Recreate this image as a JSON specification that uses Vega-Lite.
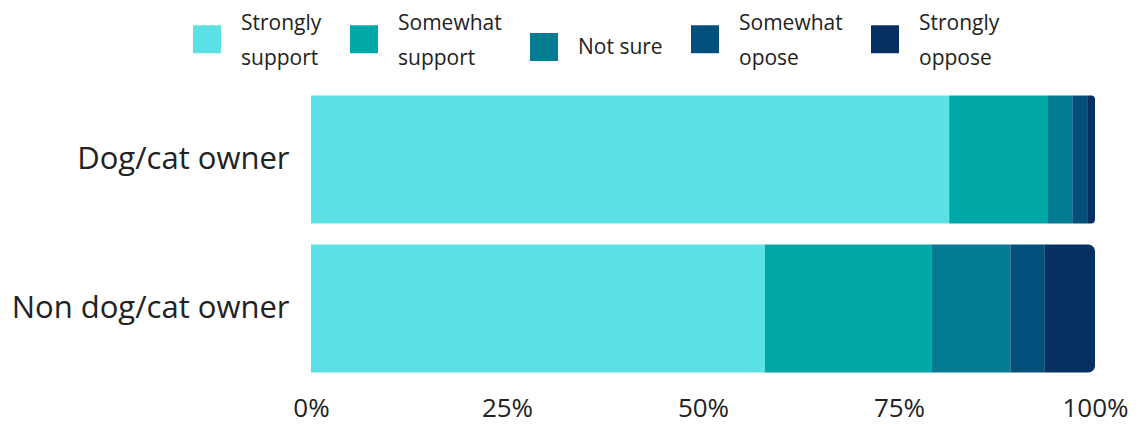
{
  "$schema": "https://vega.github.io/schema/vega-lite/v6.json",
  "width": 784,
  "height": 298,
  "autosize": {"type": "none"},
  "padding": {"left": 311, "top": 85, "right": 47, "bottom": 42},
  "background": "white",
  "config": {"view": {"stroke": null}, "font": "Open Sans"},
  "data": {
    "values": [
      {"group": "Dog/cat owner", "response": "Strongly support", "order": 1, "value": 81.4},
      {"group": "Dog/cat owner", "response": "Somewhat support", "order": 2, "value": 12.5},
      {"group": "Dog/cat owner", "response": "Not sure", "order": 3, "value": 3.2},
      {"group": "Dog/cat owner", "response": "Somewhat opose", "order": 4, "value": 2.0},
      {"group": "Dog/cat owner", "response": "Strongly oppose", "order": 5, "value": 0.9},
      {"group": "Non dog/cat owner", "response": "Strongly support", "order": 1, "value": 57.9},
      {"group": "Non dog/cat owner", "response": "Somewhat support", "order": 2, "value": 21.3},
      {"group": "Non dog/cat owner", "response": "Not sure", "order": 3, "value": 10.0},
      {"group": "Non dog/cat owner", "response": "Somewhat opose", "order": 4, "value": 4.4},
      {"group": "Non dog/cat owner", "response": "Strongly oppose", "order": 5, "value": 6.4}
    ]
  },
  "transform": [
    {"stack": "value", "groupby": ["group"], "sort": [{"field": "order"}], "as": ["v0", "v1"], "offset": "normalize"}
  ],
  "encoding": {
    "y": {
      "field": "group", "type": "nominal",
      "scale": {"domain": ["Dog/cat owner", "Non dog/cat owner"], "paddingInner": 0.14, "paddingOuter": 0.07},
      "axis": {"title": null, "domain": false, "ticks": false, "labelFontSize": 31, "labelColor": "#222222", "labelPadding": 22, "labelLimit": 400}
    },
    "x": {
      "field": "v0", "type": "quantitative",
      "scale": {"domain": [0, 1], "nice": false},
      "axis": {"title": null, "format": ".0%", "values": [0, 0.25, 0.5, 0.75, 1], "domain": false, "ticks": false, "grid": false, "labelFontSize": 26, "labelColor": "#222222", "labelPadding": 12, "labelFlush": false}
    },
    "x2": {"field": "v1"},
    "color": {
      "field": "response", "type": "nominal",
      "scale": {
        "domain": ["Strongly support", "Somewhat support", "Not sure", "Somewhat opose", "Strongly oppose"],
        "range": ["#5ce1e6", "#00a8a8", "#027b93", "#04507d", "#062f62"]
      },
      "legend": {
        "title": null,
        "orient": "none",
        "legendX": -118,
        "legendY": -60,
        "direction": "horizontal",
        "columns": 5,
        "symbolType": "square",
        "symbolSize": 784,
        "symbolStrokeWidth": 0,
        "labelFontSize": 21,
        "labelColor": "#222222",
        "labelOffset": 20,
        "columnPadding": 28,
        "labelLimit": 200,
        "labelExpr": "datum.label == 'Not sure' ? 'Not sure' : split(datum.label, ' ')",
        "encode": {"labels": {"update": {"lineHeight": {"value": 35}, "dy": {"signal": "datum.label == 'Not sure' ? 1 : -15.5"}}}}
      }
    }
  },
  "layer": [
    {
      "transform": [{"filter": "datum.response != 'Strongly oppose'"}],
      "mark": {"type": "bar"}
    },
    {
      "transform": [{"filter": "datum.response == 'Strongly oppose'"}],
      "mark": {"type": "bar", "cornerRadiusTopRight": 7, "cornerRadiusBottomRight": 7}
    }
  ]
}
